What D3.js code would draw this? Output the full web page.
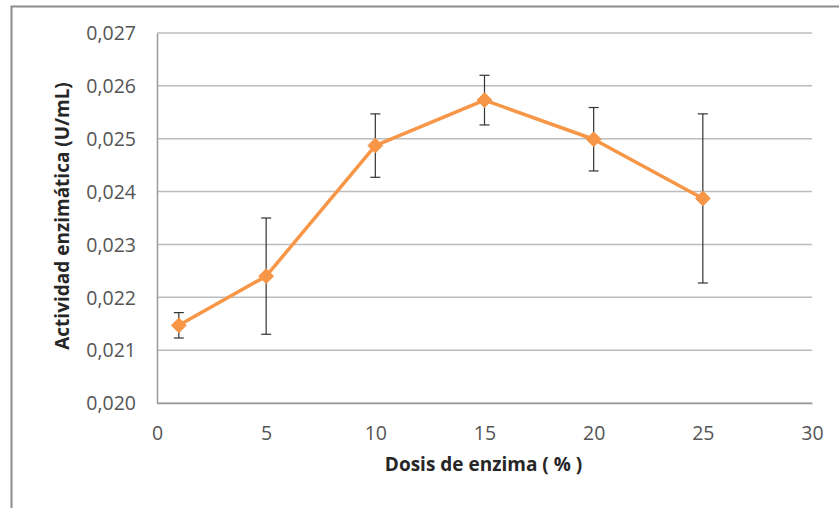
<!DOCTYPE html>
<html>
<head>
<meta charset="utf-8">
<script src="https://cdn.jsdelivr.net/npm/d3@7"></script>
<style>
  body { margin: 0; background: #fff; }
  text { font-family: "Open Sans", sans-serif; }
</style>
</head>
<body>
<div id="chart"></div>
<script>
// data
var dosis = [1, 5, 10, 15, 20, 25];
var actividad = [0.02147, 0.02240, 0.02487, 0.02573, 0.02499, 0.02387];
var errores = [0.00024, 0.00110, 0.00060, 0.00047, 0.00060, 0.00160];
var xTicks = [0, 5, 10, 15, 20, 25, 30];
var yTicks = [0.020, 0.021, 0.022, 0.023, 0.024, 0.025, 0.026, 0.027];

var svgWidth = 839;
var svgHeight = 508;

var margin = { top: 33, right: 27, bottom: 105, left: 157 };
var width = svgWidth - margin.left - margin.right;
var height = svgHeight - margin.top - margin.bottom;

var svg = d3.select("#chart")
  .append("svg")
  .attr("width", svgWidth)
  .attr("height", svgHeight);

// outer frame of the chart object
svg.append("rect")
  .attr("x", 11.5)
  .attr("y", 6.5)
  .attr("width", 900)
  .attr("height", 600)
  .attr("fill", "none")
  .attr("stroke", "#8c8c8c")
  .attr("stroke-width", 2);

var chartGroup = svg.append("g")
  .attr("transform", `translate(${margin.left}, ${margin.top})`);

var xScale = d3.scaleLinear().domain([0, 30]).range([0, width]);
var yScale = d3.scaleLinear().domain([0.020, 0.027]).range([height, 0]);

// gridlines
chartGroup.append("g")
  .selectAll("line")
  .data(yTicks)
  .enter()
  .append("line")
  .attr("x1", 0)
  .attr("x2", width)
  .attr("y1", d => yScale(d))
  .attr("y2", d => yScale(d))
  .attr("stroke", "#bdbdbd")
  .attr("stroke-width", 1.5);

// axes
var leftAxis = d3.axisLeft(yScale)
  .tickValues(yTicks)
  .tickSize(0)
  .tickPadding(21)
  .tickFormat(d => d3.format(".3f")(d).replace(".", ","));

var bottomAxis = d3.axisBottom(xScale)
  .tickValues(xTicks)
  .tickSize(0)
  .tickPadding(23);

var yAxis = chartGroup.append("g").call(leftAxis);
var xAxis = chartGroup.append("g")
  .attr("transform", `translate(0, ${height})`)
  .call(bottomAxis);

[yAxis, xAxis].forEach(function(ax) {
  ax.select(".domain").attr("stroke", "#9a9a9a").attr("stroke-width", 1.5);
  ax.selectAll("text")
    .attr("fill", "#555")
    .style("font-size", "19.5px")
    .style("font-family", "'Open Sans', sans-serif");
});
yAxis.selectAll("text").attr("dy", "0.35em");

// line
var line = d3.line()
  .x((d, i) => xScale(dosis[i]))
  .y(d => yScale(d));

chartGroup.append("path")
  .datum(actividad)
  .attr("d", line)
  .attr("fill", "none")
  .attr("stroke", "#f79646")
  .attr("stroke-width", 3.5)
  .attr("stroke-linejoin", "round");

// error bars
var errGroup = chartGroup.selectAll(".err")
  .data(actividad)
  .enter()
  .append("g")
  .attr("class", "err");

errGroup.append("line")
  .attr("x1", (d, i) => xScale(dosis[i]))
  .attr("x2", (d, i) => xScale(dosis[i]))
  .attr("y1", (d, i) => yScale(d + errores[i]))
  .attr("y2", (d, i) => yScale(d - errores[i]))
  .attr("stroke", "#333")
  .attr("stroke-width", 1.2);

[1, -1].forEach(function(s) {
  errGroup.append("line")
    .attr("x1", (d, i) => xScale(dosis[i]) - 5)
    .attr("x2", (d, i) => xScale(dosis[i]) + 5)
    .attr("y1", (d, i) => yScale(d + s * errores[i]))
    .attr("y2", (d, i) => yScale(d + s * errores[i]))
    .attr("stroke", "#333")
    .attr("stroke-width", 1.2);
});

// diamond markers
chartGroup.selectAll(".marker")
  .data(actividad)
  .enter()
  .append("path")
  .attr("class", "marker")
  .attr("d", d3.symbol().type(d3.symbolDiamond2).size(140))
  .attr("transform", (d, i) => `translate(${xScale(dosis[i])}, ${yScale(d)})`)
  .attr("fill", "#f79646")
  .attr("stroke", "#f79646")
  .attr("stroke-width", 1);

// axis titles
chartGroup.append("text")
  .attr("transform", "rotate(-90)")
  .attr("x", 0 - 183)
  .attr("y", 0 - 95)
  .attr("dy", "0.35em")
  .attr("text-anchor", "middle")
  .attr("fill", "#262626")
  .style("font-size", "19px")
  .style("font-weight", "bold")
  .text("Actividad enzimática (U/mL)");

chartGroup.append("text")
  .attr("x", width / 2 - 1)
  .attr("y", height + 68)
  .attr("text-anchor", "middle")
  .attr("fill", "#262626")
  .style("font-size", "19px")
  .style("font-weight", "bold")
  .text("Dosis de enzima ( % )");
</script>
</body>
</html>
